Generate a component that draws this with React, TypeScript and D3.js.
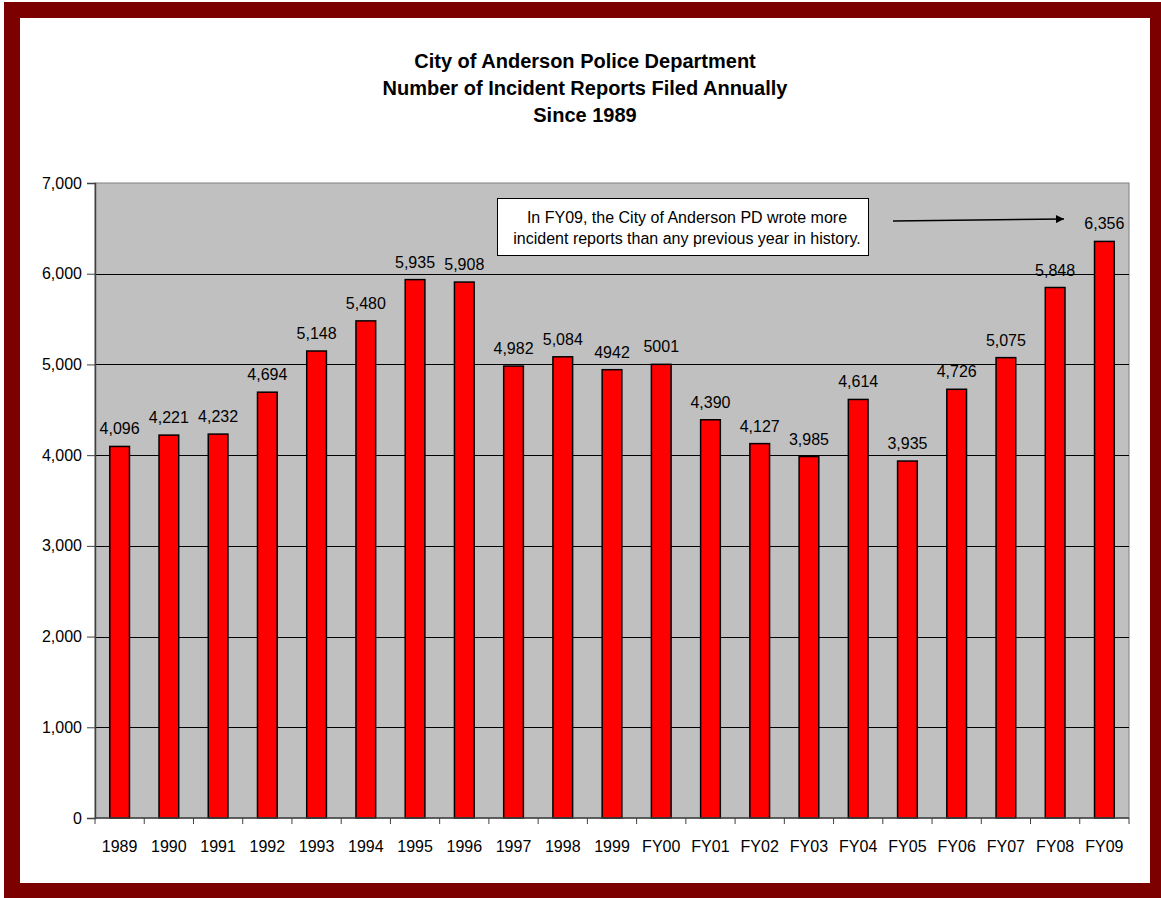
import React, { useEffect, useRef } from 'react';
import * as d3 from 'd3';

// incident reports per year
const categories = ['1989', '1990', '1991', '1992', '1993', '1994', '1995', '1996', '1997', '1998', '1999',
  'FY00', 'FY01', 'FY02', 'FY03', 'FY04', 'FY05', 'FY06', 'FY07', 'FY08', 'FY09'];
const reports = [4096, 4221, 4232, 4694, 5148, 5480, 5935, 5908, 4982, 5084, 4942,
  5001, 4390, 4127, 3985, 4614, 3935, 4726, 5075, 5848, 6356];
// the source prints a few labels without thousands separator
const valueLabels = ['4,096', '4,221', '4,232', '4,694', '5,148', '5,480', '5,935', '5,908', '4,982', '5,084', '4942',
  '5001', '4,390', '4,127', '3,985', '4,614', '3,935', '4,726', '5,075', '5,848', '6,356'];
const yTicks = [0, 1000, 2000, 3000, 4000, 5000, 6000, 7000];
const titleLines = ['City of Anderson Police Department', 'Number of Incident Reports Filed Annually', 'Since 1989'];
const noteLines = ['In FY09, the City of Anderson PD wrote more', 'incident reports than any previous year in history.'];

const W = 1161, H = 898;
const plot = { left: 95, top: 183, right: 1129, bottom: 818 };
const font = 'Arial, "Liberation Sans", sans-serif';

const App = () => {
  const ref = useRef<SVGSVGElement>(null);

  useEffect(() => {
    const svg = d3.select(ref.current);
    svg.selectAll('*').remove();

    // frame
    svg.append('rect').attr('x', 4).attr('y', 2).attr('width', W - 4).attr('height', H - 2).attr('fill', '#7d0000');
    svg.append('rect').attr('x', 20).attr('y', 18).attr('width', 1130).attr('height', 865).attr('fill', '#fff');

    const x = d3.scaleBand().domain(categories).range([plot.left, plot.right]).paddingInner(0).paddingOuter(0);
    const y = d3.scaleLinear().domain([0, 7000]).range([plot.bottom, plot.top]);
    const bw = x.bandwidth() / 2.5;

    svg.append('rect')
      .attr('x', plot.left).attr('y', plot.top)
      .attr('width', plot.right - plot.left).attr('height', plot.bottom - plot.top)
      .attr('fill', '#c0c0c0').attr('stroke', '#808080').attr('stroke-width', 1);

    svg.append('g').selectAll('line').data(yTicks.slice(1, -1)).join('line')
      .attr('x1', plot.left).attr('x2', plot.right)
      .attr('y1', d => Math.round(y(d)) + 0.5).attr('y2', d => Math.round(y(d)) + 0.5)
      .attr('stroke', '#000').attr('stroke-width', 1);

    // bars
    svg.append('g').selectAll('rect').data(reports).join('rect')
      .attr('x', (d, i) => x(categories[i])! + (x.bandwidth() - bw) / 2)
      .attr('y', d => y(d))
      .attr('width', bw)
      .attr('height', d => y(0) - y(d))
      .attr('fill', '#ff0000').attr('stroke', '#000').attr('stroke-width', 1.5);

    svg.append('g').selectAll('text').data(reports).join('text')
      .attr('x', (d, i) => x(categories[i])! + x.bandwidth() / 2)
      .attr('y', d => y(d) - 12)
      .attr('text-anchor', 'middle').attr('font-family', font).attr('font-size', 16).attr('fill', '#000')
      .text((d, i) => valueLabels[i]);

    // axes
    const yAxis = svg.append('g').attr('transform', `translate(${plot.left},0)`)
      .call(d3.axisLeft(y).tickValues(yTicks).tickFormat(d3.format(',')).tickSize(8).tickPadding(5));
    yAxis.select('.domain').attr('stroke', '#404040').attr('stroke-width', 1.5);
    yAxis.selectAll('.tick line').attr('stroke', '#404040');
    yAxis.selectAll('text').attr('font-family', font).attr('font-size', 16).attr('fill', '#000');

    const xg = svg.append('g');
    xg.append('line').attr('x1', plot.left).attr('x2', plot.right)
      .attr('y1', plot.bottom).attr('y2', plot.bottom).attr('stroke', '#404040').attr('stroke-width', 1.5);
    const bounds = categories.map(c => x(c)!).concat([plot.right]);
    xg.selectAll('line.tk').data(bounds).join('line').attr('class', 'tk')
      .attr('x1', d => d).attr('x2', d => d)
      .attr('y1', plot.bottom).attr('y2', plot.bottom + 6).attr('stroke', '#404040');
    xg.selectAll('text').data(categories).join('text')
      .attr('x', d => x(d)! + x.bandwidth() / 2).attr('y', 852)
      .attr('text-anchor', 'middle').attr('font-family', font).attr('font-size', 16).attr('fill', '#000')
      .text(d => d);

    // title
    svg.append('g').selectAll('text').data(titleLines).join('text')
      .attr('x', 585).attr('y', (d, i) => 68 + i * 27)
      .attr('text-anchor', 'middle').attr('font-family', font).attr('font-size', 20).attr('font-weight', 'bold')
      .text(d => d);

    // annotation
    svg.append('rect').attr('x', 497.5).attr('y', 198.5).attr('width', 371).attr('height', 57)
      .attr('fill', '#fff').attr('stroke', '#000').attr('stroke-width', 1);
    svg.append('g').selectAll('text').data(noteLines).join('text')
      .attr('x', 687).attr('y', (d, i) => 223 + i * 21)
      .attr('text-anchor', 'middle').attr('font-family', font).attr('font-size', 16)
      .text(d => d);

    const defs = svg.append('defs');
    defs.append('marker').attr('id', 'arr').attr('viewBox', '0 0 10 10').attr('refX', 10).attr('refY', 5)
      .attr('markerWidth', 10).attr('markerHeight', 8).attr('markerUnits', 'userSpaceOnUse').attr('orient', 'auto')
      .append('path').attr('d', 'M0,0L10,5L0,10Z').attr('fill', '#000');
    svg.append('line').attr('x1', 893).attr('x2', 1064).attr('y1', 221).attr('y2', 219)
      .attr('stroke', '#000').attr('stroke-width', 1.5).attr('marker-end', 'url(#arr)');
  }, []);

  return <svg ref={ref} width={W} height={H} style={{ position: 'absolute', left: 0, top: 0 }} />;
};

export default App;
